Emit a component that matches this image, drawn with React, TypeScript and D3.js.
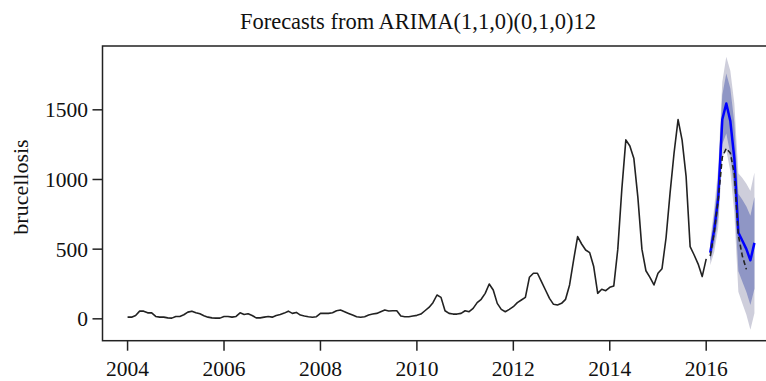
import React from 'react';
import * as d3 from 'd3';

// Monthly brucellosis counts, January 2004 to January 2016
const observedStart = 2004;
const observed = [
  12, 12, 24, 55, 55, 43, 43, 17, 12, 12, 7, 5,
  17, 17, 29, 48, 55, 43, 36, 22, 12, 7, 5, 5,
  17, 17, 12, 17, 43, 31, 36, 24, 7, 7, 12, 17,
  12, 24, 31, 41, 55, 39, 46, 27, 20, 15, 11, 15,
  39, 39, 39, 44, 58, 63, 51, 39, 27, 15, 11, 15,
  27, 34, 39, 51, 63, 56, 58, 58, 20, 15, 15, 20,
  25, 34, 58, 82, 116, 171, 154, 58, 39, 34, 34, 39,
  58, 51, 75, 116, 140, 183, 250, 207, 111, 68, 51, 68,
  87, 116, 135, 154, 298, 327, 327, 267, 207, 147, 104, 99,
  111, 140, 243, 422, 590, 537, 494, 475, 375, 183, 212, 202,
  226, 236, 500, 930, 1284, 1240, 1150, 870, 500, 345, 298, 243,
  327, 360, 580, 900, 1190, 1430, 1283, 1020, 518, 458, 393, 303,
  430,
];

// Forecast horizon: February 2016 to January 2017
const forecastStart = 2016 + 1 / 12;
const forecastMean = [475, 640, 870, 1430, 1545, 1420, 1150, 620, 560, 500, 420, 545];
const lower80 = [416, 535, 729, 1253, 1330, 1185, 892, 342, 266, 193, 100, 215];
const upper80 = [534, 745, 1011, 1607, 1760, 1655, 1408, 898, 854, 807, 740, 875];
const lower95 = [385, 480, 655, 1160, 1210, 1060, 755, 195, 110, 30, -78, 40];
const upper95 = [565, 800, 1085, 1700, 1880, 1780, 1545, 1045, 1010, 970, 918, 1050];

// Held-out 2016 observations, February to November
const actual2016 = [450, 620, 860, 1160, 1224, 1190, 1040, 600, 450, 355];

const xTicks = [2004, 2006, 2008, 2010, 2012, 2014, 2016];
const yTicks = [0, 500, 1000, 1500];

const title = 'Forecasts from ARIMA(1,1,0)(0,1,0)12';
const yLabel = 'brucellosis';

export default function App() {
  const width = 766;
  const height = 381;
  const left = 102.5;
  const right = 779.5;
  const top = 46;
  const bottom = 340.7;

  const x = d3.scaleLinear().domain([2003.48, 2017.52]).range([left, right]);
  const y = d3.scaleLinear().domain([-157, 1958]).range([bottom, top]);

  const obsPts: [number, number][] = observed.map((v, i) => [observedStart + i / 12, v]);
  const fcTimes = forecastMean.map((_, i) => forecastStart + i / 12);
  const meanPts: [number, number][] = forecastMean.map((v, i) => [fcTimes[i], v]);
  const actualPts: [number, number][] = actual2016.map((v, i) => [forecastStart + i / 12, v]);

  const line = d3
    .line<[number, number]>()
    .x((d) => x(d[0]))
    .y((d) => y(d[1]));

  const band = (lo: number[], hi: number[]) =>
    d3
      .area<number>()
      .x((_, i) => x(fcTimes[i]))
      .y0((_, i) => y(lo[i]))
      .y1((_, i) => y(hi[i]))(fcTimes.map((_, i) => i)) || '';

  const textStyle = { fontFamily: '"Liberation Serif", "Times New Roman", serif' };
  const ink = '#222';
  const tickFont = 21.5;

  return (
    <svg
      width={width}
      height={height}
      style={{ position: 'absolute', left: 0, top: 0, background: '#fff' }}
    >
      <rect x={0} y={0} width={width} height={height} fill="#fff" />

      <text x={418} y={29} textAnchor="middle" fontSize={22.5} fill="#111" style={textStyle}>
        {title}
      </text>

      <text
        transform={`translate(28,187) rotate(-90)`}
        textAnchor="middle"
        fontSize={22}
        fill="#111"
        style={textStyle}
      >
        {yLabel}
      </text>

      {/* prediction intervals */}
      <path d={band(lower95, upper95)} fill="#cecedb" stroke="none" />
      <path d={band(lower80, upper80)} fill="#8f96c5" stroke="none" />

      {/* observed series */}
      <path d={line(obsPts) || ''} fill="none" stroke={ink} strokeWidth={1.6} strokeLinejoin="round" />

      {/* point forecasts */}
      <path d={line(meanPts) || ''} fill="none" stroke="#0000ff" strokeWidth={2.5} strokeLinejoin="round" />

      {/* held-out observations */}
      <path
        d={line(actualPts) || ''}
        fill="none"
        stroke={ink}
        strokeWidth={1.6}
        strokeDasharray="5,3"
      />

      {/* frame */}
      <rect x={left} y={top} width={right - left} height={bottom - top} fill="none" stroke={ink} strokeWidth={1.5} />

      {/* y axis */}
      {yTicks.map((t) => (
        <g key={t}>
          <line x1={left - 10} x2={left} y1={y(t)} y2={y(t)} stroke={ink} strokeWidth={1.5} />
          <text x={88} y={y(t) + 7.5} textAnchor="end" fontSize={tickFont} fill="#111" style={textStyle}>
            {t}
          </text>
        </g>
      ))}

      {/* x axis */}
      {xTicks.map((t) => (
        <g key={t}>
          <line x1={x(t)} x2={x(t)} y1={bottom} y2={bottom + 10} stroke={ink} strokeWidth={1.5} />
          <text x={x(t)} y={375.5} textAnchor="middle" fontSize={tickFont} fill="#111" style={textStyle}>
            {t}
          </text>
        </g>
      ))}
    </svg>
  );
}
